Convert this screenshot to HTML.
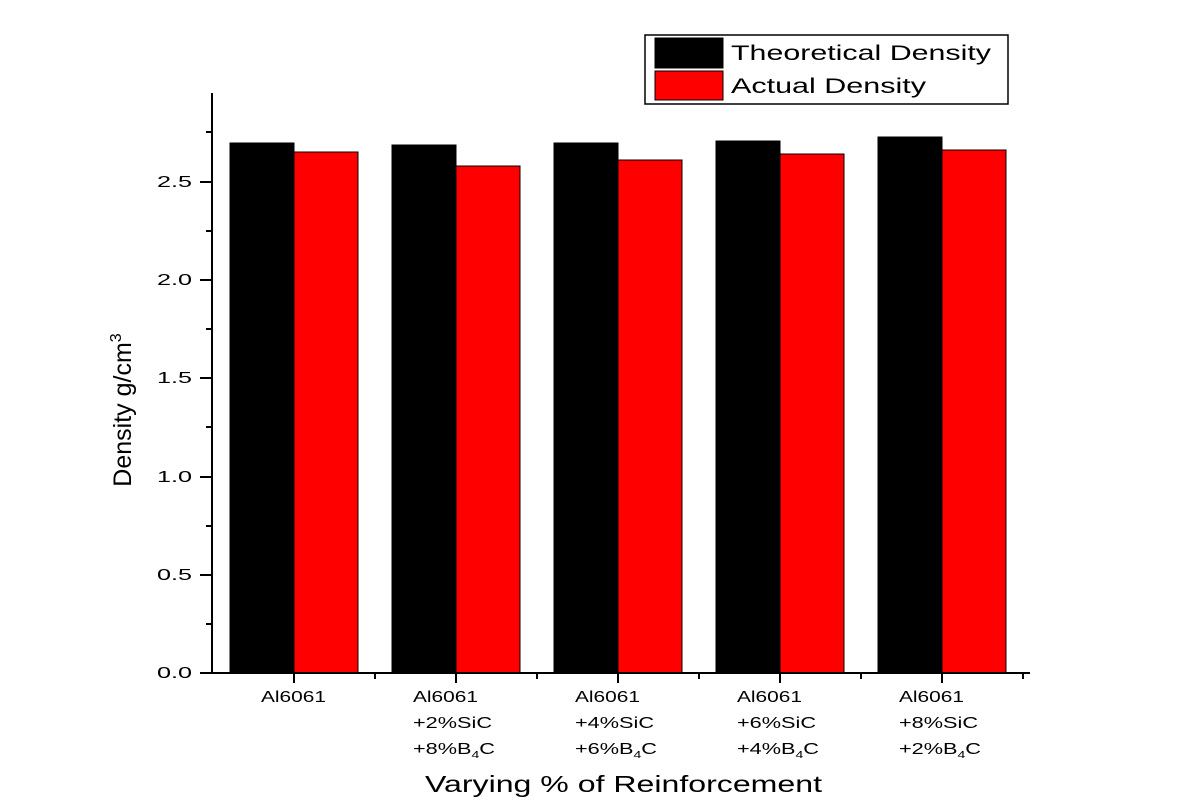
<!DOCTYPE html>
<html><head><meta charset="utf-8"><style>body{margin:0;background:#fff}</style></head>
<body>
<svg width="1187" height="807" xmlns="http://www.w3.org/2000/svg" font-family="Liberation Sans, Arial, sans-serif">
<rect width="1187" height="807" fill="#fff"/>
<g stroke="#000" stroke-width="1">
<rect x="230" y="143" width="64" height="530" fill="#000"/>
<rect x="294" y="152" width="64" height="521" fill="#f00"/>
<rect x="392" y="145" width="64" height="528" fill="#000"/>
<rect x="456" y="166" width="64" height="507" fill="#f00"/>
<rect x="554" y="143" width="64" height="530" fill="#000"/>
<rect x="618" y="160" width="64" height="513" fill="#f00"/>
<rect x="716" y="141" width="64" height="532" fill="#000"/>
<rect x="780" y="154" width="64" height="519" fill="#f00"/>
<rect x="878" y="137" width="64" height="536" fill="#000"/>
<rect x="942" y="150" width="64" height="523" fill="#f00"/>
</g>
<g stroke="#000" stroke-width="2">
<line x1="212" y1="93" x2="212" y2="674"/>
<line x1="211" y1="673" x2="1030" y2="673"/>
<line x1="200" y1="673" x2="212" y2="673"/>
<line x1="200" y1="575" x2="212" y2="575"/>
<line x1="200" y1="477" x2="212" y2="477"/>
<line x1="200" y1="378" x2="212" y2="378"/>
<line x1="200" y1="280" x2="212" y2="280"/>
<line x1="200" y1="182" x2="212" y2="182"/>
<line x1="206" y1="624" x2="212" y2="624"/>
<line x1="206" y1="526" x2="212" y2="526"/>
<line x1="206" y1="427" x2="212" y2="427"/>
<line x1="206" y1="329" x2="212" y2="329"/>
<line x1="206" y1="231" x2="212" y2="231"/>
<line x1="206" y1="132" x2="212" y2="132"/>
<line x1="294" y1="673" x2="294" y2="683"/>
<line x1="456" y1="673" x2="456" y2="683"/>
<line x1="618" y1="673" x2="618" y2="683"/>
<line x1="780" y1="673" x2="780" y2="683"/>
<line x1="942" y1="673" x2="942" y2="683"/>
<line x1="375" y1="673" x2="375" y2="679"/>
<line x1="537" y1="673" x2="537" y2="679"/>
<line x1="699" y1="673" x2="699" y2="679"/>
<line x1="861" y1="673" x2="861" y2="679"/>
<line x1="1023" y1="673" x2="1023" y2="679"/>
</g>
<g font-size="16">
<text x="157" y="678" textLength="35" lengthAdjust="spacingAndGlyphs">0.0</text>
<text x="157" y="580" textLength="35" lengthAdjust="spacingAndGlyphs">0.5</text>
<text x="157" y="482" textLength="35" lengthAdjust="spacingAndGlyphs">1.0</text>
<text x="157" y="383" textLength="35" lengthAdjust="spacingAndGlyphs">1.5</text>
<text x="157" y="285" textLength="35" lengthAdjust="spacingAndGlyphs">2.0</text>
<text x="157" y="187" textLength="35" lengthAdjust="spacingAndGlyphs">2.5</text>
</g>
<g font-size="15.5">
<text x="261" y="702" textLength="65" lengthAdjust="spacingAndGlyphs">Al6061</text>

<text x="413" y="702" textLength="65" lengthAdjust="spacingAndGlyphs">Al6061</text>
<text x="413" y="728" textLength="79" lengthAdjust="spacingAndGlyphs">+2%SiC</text>
<text x="413" y="754" textLength="82" lengthAdjust="spacingAndGlyphs">+8%B<tspan font-size="10" dy="4">4</tspan><tspan dy="-4">C</tspan></text>

<text x="575" y="702" textLength="65" lengthAdjust="spacingAndGlyphs">Al6061</text>
<text x="575" y="728" textLength="79" lengthAdjust="spacingAndGlyphs">+4%SiC</text>
<text x="575" y="754" textLength="82" lengthAdjust="spacingAndGlyphs">+6%B<tspan font-size="10" dy="4">4</tspan><tspan dy="-4">C</tspan></text>

<text x="737" y="702" textLength="65" lengthAdjust="spacingAndGlyphs">Al6061</text>
<text x="737" y="728" textLength="79" lengthAdjust="spacingAndGlyphs">+6%SiC</text>
<text x="737" y="754" textLength="82" lengthAdjust="spacingAndGlyphs">+4%B<tspan font-size="10" dy="4">4</tspan><tspan dy="-4">C</tspan></text>

<text x="899" y="702" textLength="65" lengthAdjust="spacingAndGlyphs">Al6061</text>
<text x="899" y="728" textLength="79" lengthAdjust="spacingAndGlyphs">+8%SiC</text>
<text x="899" y="754" textLength="82" lengthAdjust="spacingAndGlyphs">+2%B<tspan font-size="10" dy="4">4</tspan><tspan dy="-4">C</tspan></text>
</g>
<text x="425" y="792" font-size="23" textLength="397" lengthAdjust="spacingAndGlyphs">Varying % of Reinforcement</text>
<text transform="translate(131,410) rotate(-90)" font-size="25" text-anchor="middle">Density g/cm<tspan font-size="16" dy="-10">3</tspan></text>
<rect x="645" y="35" width="363" height="69" fill="#fff" stroke="#000" stroke-width="1.5"/>
<rect x="655" y="38" width="68" height="30" fill="#000" stroke="#000"/>
<rect x="655" y="71" width="68" height="29" fill="#f00" stroke="#000"/>
<text x="731" y="60" font-size="21" textLength="260" lengthAdjust="spacingAndGlyphs">Theoretical Density</text>
<text x="731" y="93" font-size="21" textLength="195" lengthAdjust="spacingAndGlyphs">Actual Density</text>
</svg>
</body></html>
